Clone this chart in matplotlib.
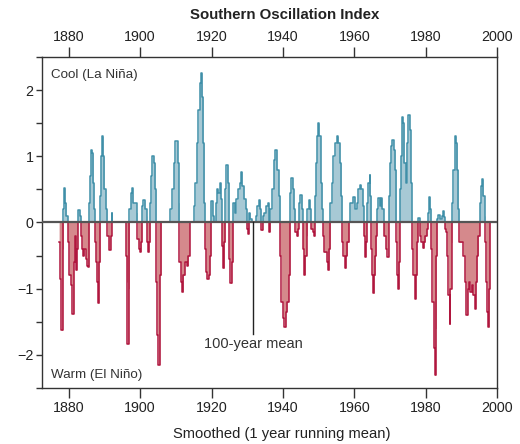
import numpy as np
import matplotlib
matplotlib.use("Agg")
import matplotlib.pyplot as plt

plt.rcParams['font.family'] = ['Liberation Sans', 'DejaVu Sans']

# Smoothed Southern Oscillation Index
years = [
    1877.3, 1877.6, 1877.9, 1878.3, 1878.5, 1878.7, 1879.0, 1879.3, 1879.7, 1880.1,
    1880.6, 1881.0, 1881.4, 1881.7, 1881.9, 1882.3, 1882.5, 1883.1, 1883.4, 1883.7,
    1884.0, 1884.4, 1884.7, 1885.1, 1885.4, 1885.7, 1885.9, 1886.2, 1886.6, 1886.9,
    1887.1, 1887.3, 1887.6, 1887.9, 1888.2, 1888.5, 1888.8, 1889.0, 1889.3, 1889.7,
    1890.0, 1890.4, 1890.8, 1891.2, 1891.7, 1892.0, 1892.15,
    1896.0, 1896.2, 1896.4, 1896.8, 1897.0, 1897.3, 1897.6, 1898.0, 1898.6, 1899.0,
    1899.2, 1899.6, 1900.0, 1900.3, 1900.5, 1900.9, 1901.4, 1901.8, 1901.9, 1902.2,
    1902.5, 1902.8, 1903.1, 1903.4, 1903.8, 1904.2, 1904.5, 1904.8, 1905.1, 1905.5,
    1905.9,
    1908.5, 1909.0, 1909.4, 1909.9, 1910.5, 1910.8, 1911.0, 1911.4, 1911.8, 1912.15,
    1912.5, 1913.1, 1913.55, 1913.85,
    1915.15, 1915.5, 1915.9, 1916.3, 1916.65, 1917.0, 1917.4, 1917.7, 1918.0, 1918.15,
    1918.45, 1918.7, 1919.2, 1919.55, 1919.85, 1920.3, 1920.7, 1921.15, 1921.5, 1921.9,
    1922.3, 1922.65, 1922.85, 1923.2, 1923.6, 1923.8, 1924.2, 1924.6, 1924.9, 1925.3,
    1925.65, 1926.0, 1926.5, 1927.0, 1927.4, 1927.9, 1928.3, 1928.65, 1929.1, 1929.6,
    1929.9, 1930.2, 1930.5, 1930.9, 1931.3, 1932.4, 1932.85, 1933.2, 1933.7, 1933.9,
    1934.3, 1934.7, 1935.2, 1935.8, 1936.1, 1936.5, 1937.0, 1937.4, 1937.8, 1938.3,
    1938.8, 1939.2, 1939.6, 1940.0, 1940.4, 1940.8, 1941.2, 1941.6, 1942.0, 1942.35,
    1942.7, 1943.1, 1943.45, 1943.85, 1944.2, 1944.4, 1944.85, 1945.35, 1945.5, 1945.9,
    1946.3, 1946.65, 1946.85, 1947.2, 1947.6, 1947.8, 1948.35, 1948.7, 1948.9, 1949.2,
    1949.5, 1949.85, 1950.2, 1950.6, 1951.0, 1951.15, 1951.5, 1951.9, 1952.3, 1952.65,
    1953.0, 1953.3, 1953.8, 1954.15, 1954.6, 1955.1, 1955.55, 1956.0, 1956.4, 1956.6,
    1956.95, 1957.3, 1957.7, 1958.1, 1958.5, 1958.85, 1959.2, 1959.6, 1960.15, 1960.7,
    1961.1, 1961.55, 1962.0, 1962.4, 1962.6, 1962.95, 1963.3, 1963.5, 1963.9, 1964.3,
    1964.55, 1964.75, 1965.0, 1965.3, 1965.6, 1965.9, 1966.15, 1966.35, 1966.7, 1967.1,
    1967.45, 1967.85, 1968.2, 1968.8, 1969.3, 1969.6, 1969.9, 1970.3, 1970.55, 1971.0,
    1971.5, 1971.8, 1972.05, 1972.35, 1972.6, 1972.7, 1973.0, 1973.3, 1973.65, 1974.0,
    1974.4, 1974.8, 1975.15, 1975.5, 1975.8, 1976.1, 1976.2, 1976.55, 1976.9, 1977.3,
    1977.6, 1977.8, 1978.35, 1978.8, 1979.2, 1979.55, 1979.9, 1980.4, 1980.6, 1980.95,
    1981.3, 1981.5, 1981.9, 1982.3, 1982.55, 1982.85, 1983.0, 1983.2, 1983.5, 1983.95,
    1984.5, 1984.8, 1985.1, 1985.3, 1985.65, 1986.0, 1986.4, 1986.7, 1986.95, 1987.25,
    1987.4, 1987.8, 1988.2, 1988.55, 1988.9, 1989.2, 1989.4, 1989.95, 1990.5, 1991.0,
    1991.35, 1991.75, 1992.1, 1992.5, 1992.9, 1993.25, 1993.7, 1994.1, 1994.45, 1994.8,
    1995.1, 1995.5, 1995.85, 1996.2, 1996.5, 1996.7, 1997.0, 1997.3, 1997.55, 1997.85,
    1998.0,
]
soi = [
    -0.3, -0.85, -1.63, -0.4, 0.2, 0.52, 0.3, 0.1, -0.3, -0.8,
    -0.95, -1.38, -0.6, -0.2, -0.72, -0.4, 0.19, 0.1, -0.2, -0.4,
    -0.5, -0.4, -0.55, -0.65, -0.67, 0.3, 0.7, 1.1, 1.05, 0.6,
    0.2, -0.3, -0.6, -0.9, -1.22, -0.6, 0.4, 1.0, 1.3, 1.0,
    0.5, 0.2, -0.2, -0.41, -0.2, 0.15, 0.0,
    -0.5, -0.9, -1.83, -1.0, 0.2, 0.45, 0.52, 0.3, 0.3, 0.15,
    -0.25, -0.4, -0.44, -0.3, 0.25, 0.34, 0.2, 0.1, -0.3, -0.45,
    -0.3, 0.3, 0.7, 1.0, 0.9, 0.5, -0.9, -1.7, -2.15, -0.8,
    0.0,
    0.2, 0.5, 0.9, 1.23, 0.9, 0.3, -0.6, -0.9, -1.05, -0.8,
    -0.6, -0.65, -0.5, 0.0,
    0.25, 0.6, 1.2, 1.7, 2.1, 2.26, 1.9, 1.2, 0.3, -0.4,
    -0.75, -0.85, -0.8, -0.5, 0.33, 0.1, 0.0, 0.3, 0.5, 0.45,
    0.6, 0.35, -0.35, -0.69, -0.3, 0.5, 0.87, 0.6, -0.55, -0.92,
    -0.6, 0.3, 0.15, 0.35, 0.5, 0.6, 0.77, 0.55, 0.35, 0.2,
    -0.1, -0.17, 0.15, 0.05, 0.0, 0.1, 0.25, 0.34, 0.2, -0.12,
    0.1, 0.15, 0.25, 0.29, -0.14, 0.2, 0.5, 0.95, 1.1, 0.8,
    0.4, -0.5, -1.2, -1.45, -1.58, -1.35, -1.2, -0.8, 0.45, 0.67,
    0.5, 0.2, -0.15, -0.21, -0.1, 0.3, 0.42, 0.2, -0.4, -0.79,
    -0.5, -0.2, 0.2, 0.34, 0.2, -0.1, -0.15, -0.21, 0.4, 0.9,
    1.3, 1.5, 1.3, 0.6, 0.2, -0.2, -0.45, -0.45, -0.6, -0.72,
    -0.4, 0.3, 0.6, 1.0, 1.2, 1.3, 1.2, 0.9, 0.4, -0.3,
    -0.5, -0.69, -0.5, -0.3, 0.0, 0.3, 0.3, 0.39, 0.2, 0.3,
    0.5, 0.57, 0.5, 0.25, -0.2, -0.52, -0.3, 0.3, 0.6, 0.72,
    0.4, -0.4, -0.8, -1.07, -0.8, -0.5, -0.2, 0.2, 0.37, 0.25,
    0.37, 0.2, -0.2, -0.4, -0.52, 0.4, 0.9, 1.15, 1.25, 1.1,
    0.8, -0.3, -0.8, -1.0, -0.6, 0.5, 1.0, 1.6, 1.5, 0.9,
    0.6, 1.2, 1.63, 1.4, 0.6, 0.2, -0.4, -0.8, -1.15, -0.8,
    -0.3, 0.07, -0.2, -0.3, -0.39, -0.3, -0.2, -0.1, 0.15, 0.39,
    0.2, -0.4, -1.2, -1.9, -2.31, -1.6, -0.5, 0.05, 0.12, 0.05,
    0.1, 0.17, 0.08, -0.1, -0.15, -0.5, -1.1, -1.53, -1.0, -0.3,
    0.3, 0.8, 1.3, 1.2, 0.8, 0.2, -0.3, -0.3, -0.5, -0.9,
    -1.4, -1.0, -0.9, -1.05, -0.95, -1.1, -1.3, -0.9, -0.5, -0.2,
    0.3, 0.55, 0.65, 0.4, 0.1, -0.3, -0.9, -1.35, -1.58, -1.0,
    0.0,
]

x_ticks = [1880, 1900, 1920, 1940, 1960, 1980, 2000]
y_ticks = [-2, -1, 0, 1, 2]
y_minor = [-2.5, -1.5, -0.5, 0.5, 1.5, 2.5]
mean_year = 1931.6
title = "Southern Oscillation Index"
xlabel = "Smoothed (1 year running mean)"
cool_label = "Cool (La Niña)"
warm_label = "Warm (El Niño)"
mean_label = "100-year mean"

W, H = 520, 444
fig = plt.figure(figsize=(W / 100, H / 100), dpi=100)
ax = fig.add_axes([42 / W, 1 - 388 / H, (497 - 42) / W, (388 - 57) / H])

x = np.array(years)
y = np.array(soi)
pos = np.where(y > 0, y, 0)
neg = np.where(y < 0, y, 0)

ax.fill_between(x, 0, pos, step='post', color='#a7c9d5', lw=0, zorder=1)
ax.fill_between(x, 0, neg, step='post', color='#d5898c', lw=0, zorder=1)
ax.step(x, pos, where='post', color='#3f8fa8', lw=1.1, zorder=2)
ax.step(x, neg, where='post', color='#b0163e', lw=1.1, zorder=2)
ax.axhline(0, color='#555555', lw=1.6, zorder=3)

ax.plot([mean_year, mean_year], [0, -1.68], color='#222222', lw=1.0, zorder=4)
ax.text(mean_year + 0.2, -1.84, mean_label, ha='center', va='center',
        fontsize=10.5, color='#333333')
ax.text(1875.0, 2.23, cool_label, ha='left', va='center', fontsize=9.6, color='#333333')
ax.text(1875.0, -2.31, warm_label, ha='left', va='center', fontsize=9.6, color='#333333')

ax.set_xlim(1872.5, 2000)
ax.set_ylim(-2.5, 2.5)
ax.set_xticks(x_ticks)
ax.set_yticks(y_ticks)
ax.set_yticklabels([f"{v}" if v >= 0 else f"\u2212{-v}" for v in y_ticks])
ax.set_yticks(y_minor, minor=True)

ax.tick_params(axis='x', which='both', top=True, labeltop=True, bottom=True,
               labelbottom=True, direction='out', length=7, width=1,
               labelsize=10.3, color='#333333', labelcolor='#222222', pad=2)
ax.tick_params(axis='y', which='both', left=True, right=False, direction='out',
               length=4.5, width=1, labelsize=10.3, color='#333333',
               labelcolor='#222222', pad=1.5)

for s in ax.spines.values():
    s.set_color('#333333')
    s.set_linewidth(1.0)

fig.text(285 / W, 1 - 15 / H, title, ha='center', va='center', fontsize=10.8,
         fontweight='bold', color='#222222')
fig.text(282 / W, 1 - 434 / H, xlabel, ha='center', va='center', fontsize=10.6,
         color='#222222')

fig.savefig('out.png', dpi=100)
